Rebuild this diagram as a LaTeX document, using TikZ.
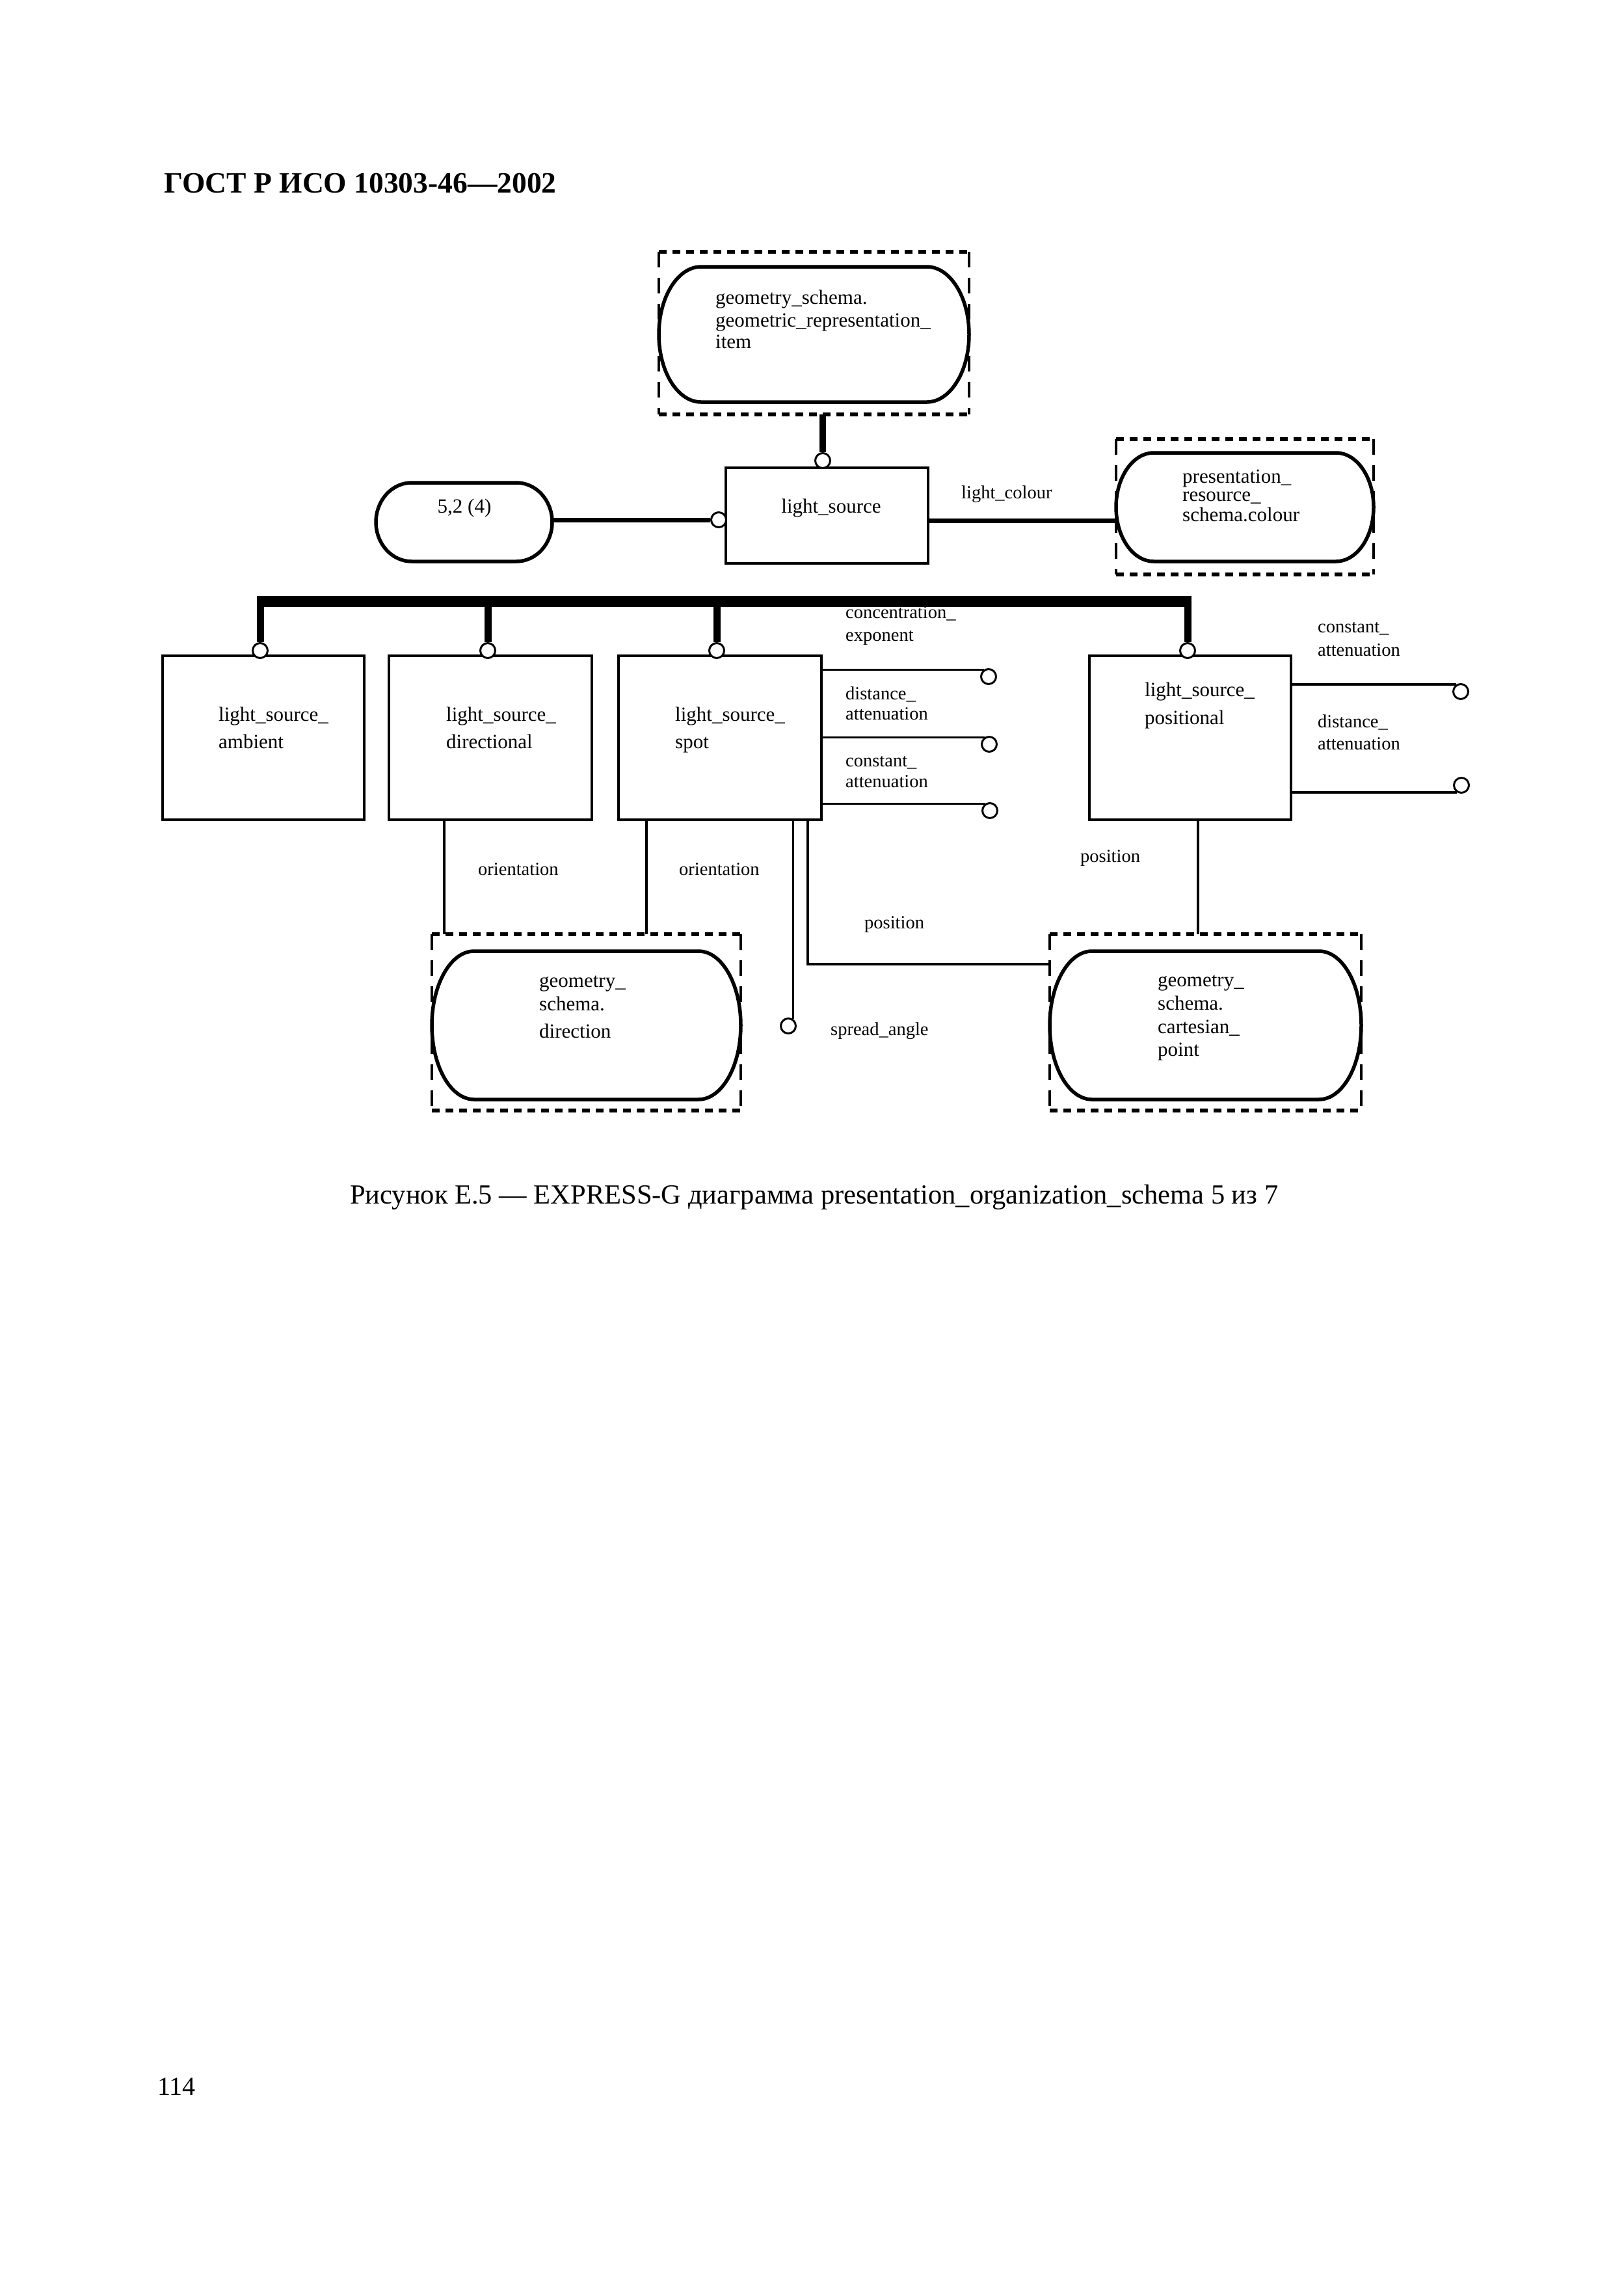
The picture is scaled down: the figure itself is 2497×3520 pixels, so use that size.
\documentclass[tikz,border=0pt]{standalone}
\usepackage{fontspec}
\setmainfont{Liberation Serif}
\newcommand\pillshape[5]{%
  \pgfmathsetmacro\pillA{#1+#5}%
  \pgfmathsetmacro\pillB{#3-#5}%
  \pgfmathsetmacro\pillM{(#2+#4)/2}%
  \pgfmathsetmacro\pillK{0.5523*#5}%
  \pgfmathsetmacro\pillKy{0.5523*(#4-#2)/2}%
  \draw[pillline] (\pillA,#2) -- (\pillB,#2)
    .. controls (\pillB+\pillK,#2) and (#3,\pillM-\pillKy) .. (#3,\pillM)
    .. controls (#3,\pillM+\pillKy) and (\pillB+\pillK,#4) .. (\pillB,#4)
    -- (\pillA,#4)
    .. controls (\pillA-\pillK,#4) and (#1,\pillM+\pillKy) .. (#1,\pillM)
    .. controls (#1,\pillM-\pillKy) and (\pillA-\pillK,#2) .. (\pillA,#2) -- cycle;
}
\newcommand\dashedframe[1]{%
  \draw[hdash] (#1.north west) -- (#1.north east);
  \draw[hdash] (#1.south west) -- (#1.south east);
  \draw[vdash] (#1.north west) -- (#1.south west);
  \draw[vdash] (#1.north east) -- (#1.south east);
}
\begin{document}
\begin{tikzpicture}[x=1pt,y=-1pt,
  ebox/.style={draw, line width=4pt, inner sep=0pt, outer sep=0pt},
  area/.style={inner sep=0pt, outer sep=0pt},
  oc/.style={circle, draw, line width=3pt, fill=white, inner sep=0pt, minimum size=23pt},
  rel/.style={line width=7pt},
  subln/.style={line width=11pt},
  barln/.style={line width=17pt},
  attr/.style={line width=3.5pt},
  pillline/.style={line width=5.5pt, line join=round},
  hdash/.style={line width=6pt, dash pattern=on 12pt off 9pt},
  vdash/.style={line width=4.5pt, dash pattern=on 24pt off 16pt},
  lbl/.style={anchor=base west, inner sep=0pt, font=\fontsize{28.5}{30}\selectfont},
  btxt/.style={anchor=base west, inner sep=0pt, font=\fontsize{31}{33}\selectfont}]
\useasboundingbox (0,0) rectangle (2497,3520);
\fill[white] (0,0) rectangle (2497,3520);

% header, caption, page number
\node[anchor=base west, inner sep=0pt, font=\fontsize{45.5}{50}\selectfont\bfseries] (hdr) at (252,296) {ГОСТ Р ИСО 10303-46—2002};
\node[anchor=base west, inner sep=0pt, font=\fontsize{42.5}{46}\selectfont] (cap) at (538,1850) {Рисунок Е.5 — EXPRESS-G диаграмма presentation\_organization\_schema 5 из 7};
\node[anchor=base west, inner sep=0pt, font=\fontsize{40}{44}\selectfont] (pgno) at (242,3220) {114};

% entity boxes
\node[ebox, minimum width=311pt, minimum height=147pt] (ls) at (1271.5,792.5) {};
\node[ebox, minimum width=310pt, minimum height=252pt] (amb) at (405,1134) {};
\node[ebox, minimum width=312pt, minimum height=252pt] (dir) at (754,1134) {};
\node[ebox, minimum width=312pt, minimum height=252pt] (spot) at (1107,1134) {};
\node[ebox, minimum width=310pt, minimum height=252pt] (pos) at (1830,1134) {};

% external (other schema) symbols
\node[area, minimum width=477pt, minimum height=250pt] (geo) at (1251.5,512) {};
\pillshape{1013}{410}{1490}{618}{65}
\dashedframe{geo}
\node[area, minimum width=396pt, minimum height=208pt] (col) at (1914,779) {};
\pillshape{1716}{696}{2112}{863}{58}
\dashedframe{col}
\node[area, minimum width=475pt, minimum height=271pt] (gdir) at (901.5,1571.5) {};
\pillshape{664}{1462}{1139}{1690}{65}
\dashedframe{gdir}
\node[area, minimum width=479pt, minimum height=271pt] (gpt) at (1853.5,1571.5) {};
\pillshape{1614}{1462}{2093}{1690}{65}
\dashedframe{gpt}
\node[area, minimum width=271pt, minimum height=121pt] (ref) at (713.5,802.5) {};
\pillshape{578}{742}{849}{863}{55}

% texts
\node[btxt] (geo1) at (1100,467) {geometry\_schema.};
\node[btxt] (geo2) at (1100,502) {geometric\_representation\_};
\node[btxt] (geo3) at (1100,535) {item};
\node[btxt] (col1) at (1818,742) {presentation\_};
\node[btxt] (col2) at (1818,770) {resource\_};
\node[btxt] (col3) at (1818,801) {schema.colour};
\node[btxt, anchor=base] (lst) at (1278,788) {light\_source};
\node[btxt, anchor=base] (reft) at (714,788) {5,2 (4)};
\node[btxt] (amb1) at (336,1108) {light\_source\_};
\node[btxt] (amb2) at (336,1150) {ambient};
\node[btxt] (dir1) at (686,1108) {light\_source\_};
\node[btxt] (dir2) at (686,1150) {directional};
\node[btxt] (spot1) at (1038,1108) {light\_source\_};
\node[btxt] (spot2) at (1038,1150) {spot};
\node[btxt] (pos1) at (1760,1070) {light\_source\_};
\node[btxt] (pos2) at (1760,1113) {positional};
\node[btxt] (gdir1) at (829,1517) {geometry\_};
\node[btxt] (gdir2) at (829,1553) {schema.};
\node[btxt] (gdir3) at (829,1595) {direction};
\node[btxt] (gpt1) at (1780,1516) {geometry\_};
\node[btxt] (gpt2) at (1780,1552) {schema.};
\node[btxt] (gpt3) at (1780,1588) {cartesian\_};
\node[btxt] (gpt4) at (1780,1623) {point};

% circles
\node[oc] (cT) at (1265,708) {};
\node[oc] (cL) at (1105,799) {};
\node[oc] (cA) at (400,1000) {};
\node[oc] (cD) at (750,1000) {};
\node[oc] (cS) at (1102,1000) {};
\node[oc] (cP) at (1826,1000) {};
\node[oc] (cS1) at (1520,1040) {};
\node[oc] (cS2) at (1521,1144) {};
\node[oc] (cS3) at (1522,1246) {};
\node[oc] (cP1) at (2246,1063) {};
\node[oc] (cP2) at (2247,1207) {};
\node[oc] (cSA) at (1212,1577) {};

% connectors
\draw[line width=10pt] (cT.north |- geo.south) -- (cT.north);
\draw[rel] (ref.east |- cL) -- (cL.west);
\coordinate (lcy) at (0,800);
\draw[rel] (ls.east |- lcy) -- (col.west |- lcy);
\coordinate (barL) at (394.5,924);
\coordinate (barR) at (1831.5,924);
\draw[barln] (barL) -- (barR);
\foreach \nm in {cA,cD,cS,cP} \draw[subln] (\nm.north |- barL) -- (\nm.north);
\draw[attr] (spot.east |- cS1.125) -- (cS1.125);
\draw[attr] (spot.east |- cS2.125) -- (cS2.125);
\draw[attr] (spot.east |- cS3.125) -- (cS3.125);
\draw[attr] (pos.east |- cP1.124) -- (cP1.124);
\draw[attr] (pos.east |- cP2.236) -- (cP2.236);
\draw[attr] (cSA.55 |- spot.south) -- (cSA.55);
\coordinate (pb) at (1242,1482);
\draw[attr] (pb |- spot.south) -- (pb) -- (pb -| gpt.west);
\coordinate (o1) at (683,0);
\coordinate (o2) at (994,0);
\coordinate (o3) at (1842,0);
\draw[attr] (o1 |- dir.south) -- (o1 |- gdir.north);
\draw[attr] (o2 |- spot.south) -- (o2 |- gdir.north);
\draw[attr] (o3 |- pos.south) -- (o3 |- gpt.north);

% labels
\node[lbl] (lc) at (1478,766) {light\_colour};
\node[lbl] (sa1) at (1300,950) {concentration\_};
\node[lbl] (sa2) at (1300,985) {exponent};
\node[lbl] (sa3) at (1300,1075) {distance\_};
\node[lbl] (sa4) at (1300,1106) {attenuation};
\node[lbl] (sa5) at (1300,1178) {constant\_};
\node[lbl] (sa6) at (1300,1210) {attenuation};
\node[lbl] (pa1) at (2026,972) {constant\_};
\node[lbl] (pa2) at (2026,1008) {attenuation};
\node[lbl] (pa3) at (2026,1118) {distance\_};
\node[lbl] (pa4) at (2026,1152) {attenuation};
\node[lbl] (or1) at (735,1345) {orientation};
\node[lbl] (or2) at (1044,1345) {orientation};
\node[lbl] (ps1) at (1329,1427) {position};
\node[lbl] (ps2) at (1661,1325) {position};
\node[lbl] (spa) at (1277,1591) {spread\_angle};
\end{tikzpicture}
\end{document}
